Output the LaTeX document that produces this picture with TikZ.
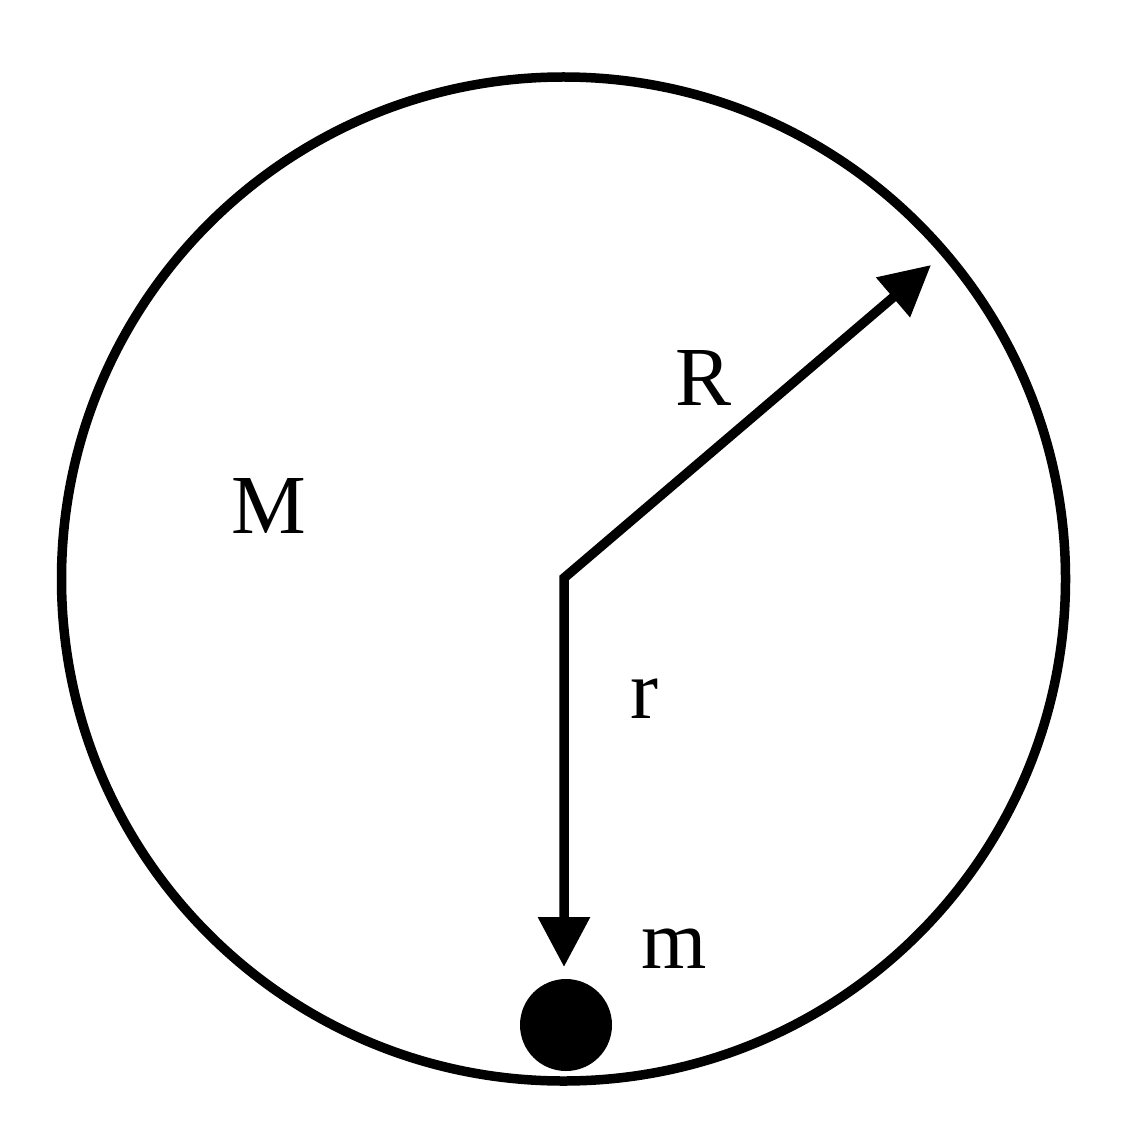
\documentclass[tikz,border=0pt]{standalone}
\usepackage{fontspec}
\setmainfont{Liberation Serif}
\usetikzlibrary{arrows.meta}
\tikzset{
  lbl/.style={anchor=base, inner sep=0pt, font=\fontsize{84}{100}\selectfont},
  tipstyle/.style={Triangle[length=50pt,width=50pt]},
}
\begin{document}
\begin{tikzpicture}[x=1pt,y=-1pt]
\useasboundingbox (0,0) rectangle (1123,1147);
\node[draw, line width=9.5pt, circle, minimum size=1004pt, inner sep=0pt] (big) at (563.5,579) {};
\coordinate (O) at (564,578);
\coordinate (Rtip) at (931,265);
\coordinate (rtip) at (564,967);
\draw[line width=9.5pt, line join=miter, {Triangle[length=50pt,width=50pt]}-{Triangle[length=50pt,width=50pt]}] (rtip) -- (O) -- (Rtip);
\node[circle, fill=black, minimum size=92pt, inner sep=0pt] (ball) at (566,1025) {};
\node[lbl] (labR) at (704,405) {R};
\node[lbl] (labM) at (269,533) {M};
\node[lbl] (labr) at (644,718) {r};
\node[lbl] (labm) at (674,968) {m};
\end{tikzpicture}
\end{document}
